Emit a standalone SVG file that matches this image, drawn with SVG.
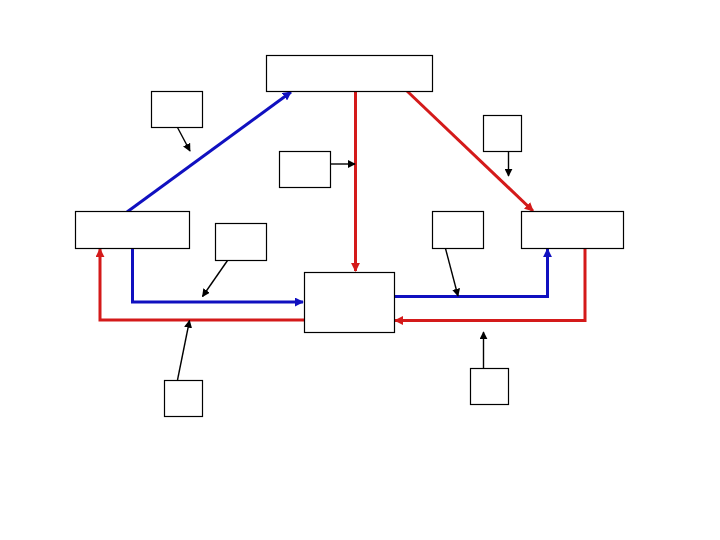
<svg xmlns="http://www.w3.org/2000/svg" width="720" height="540" viewBox="0 0 720 540">
<style>
.box{fill:#fff;stroke:#000;stroke-width:1.2}
.r{fill:none;stroke:#d41a1a;stroke-width:3}
.b{fill:none;stroke:#1010c0;stroke-width:3}
.k{fill:none;stroke:#000;stroke-width:1.4}
</style>
<defs>
<marker id="ar" viewBox="0 0 10 10" refX="9" refY="5" markerWidth="9" markerHeight="9" markerUnits="userSpaceOnUse" orient="auto"><path d="M0,0L10,5L0,10z" fill="#d41a1a"/></marker>
<marker id="ab" viewBox="0 0 10 10" refX="9" refY="5" markerWidth="9" markerHeight="9" markerUnits="userSpaceOnUse" orient="auto"><path d="M0,0L10,5L0,10z" fill="#1010c0"/></marker>
<marker id="ak" viewBox="0 0 10 10" refX="9" refY="5" markerWidth="8" markerHeight="8" markerUnits="userSpaceOnUse" orient="auto"><path d="M0,0L10,5L0,10z" fill="#000"/></marker>
</defs>
<rect width="720" height="540" fill="#fff"/>
<g id="connectors">
<path class="b" d="M127,212L291,92" marker-end="url(#ab)"/>
<path class="r" d="M355.5,91V271" marker-end="url(#ar)"/>
<path class="r" d="M407,91L533,211" marker-end="url(#ar)"/>
<path class="b" d="M132.5,248V302H303" marker-end="url(#ab)"/>
<path class="r" d="M304,320H100V249" marker-end="url(#ar)"/>
<path class="b" d="M395,296.5H547.5V249" marker-end="url(#ab)"/>
<path class="r" d="M585,248V320.5H395" marker-end="url(#ar)"/>
<path class="k" d="M177.5,127.5L190,151" marker-end="url(#ak)"/>
<path class="k" d="M330.5,164H355" marker-end="url(#ak)"/>
<path class="k" d="M508.5,151.5V176" marker-end="url(#ak)"/>
<path class="k" d="M227.5,260.5L202.5,296.5" marker-end="url(#ak)"/>
<path class="k" d="M445.5,248.5L458,296" marker-end="url(#ak)"/>
<path class="k" d="M177.5,380L189.5,320.5" marker-end="url(#ak)"/>
<path class="k" d="M483.5,368V332" marker-end="url(#ak)"/>
</g>
<g id="top"><rect class="box" x="266.5" y="55.5" width="166" height="36"/></g>
<g id="left"><rect class="box" x="75.5" y="211.5" width="114" height="37"/></g>
<g id="right"><rect class="box" x="521.5" y="211.5" width="102" height="37"/></g>
<g id="center"><rect class="box" x="304.5" y="272.5" width="90" height="60"/></g>
<g id="s1"><rect class="box" x="151.5" y="91.5" width="51" height="36"/></g>
<g id="s2"><rect class="box" x="279.5" y="151.5" width="51" height="36"/></g>
<g id="s3"><rect class="box" x="215.5" y="223.5" width="51" height="37"/></g>
<g id="s4"><rect class="box" x="483.5" y="115.5" width="38" height="36"/></g>
<g id="s5"><rect class="box" x="432.5" y="211.5" width="51" height="37"/></g>
<g id="s6"><rect class="box" x="164.5" y="380.5" width="38" height="36"/></g>
<g id="s7"><rect class="box" x="470.5" y="368.5" width="38" height="36"/></g>
</svg>
